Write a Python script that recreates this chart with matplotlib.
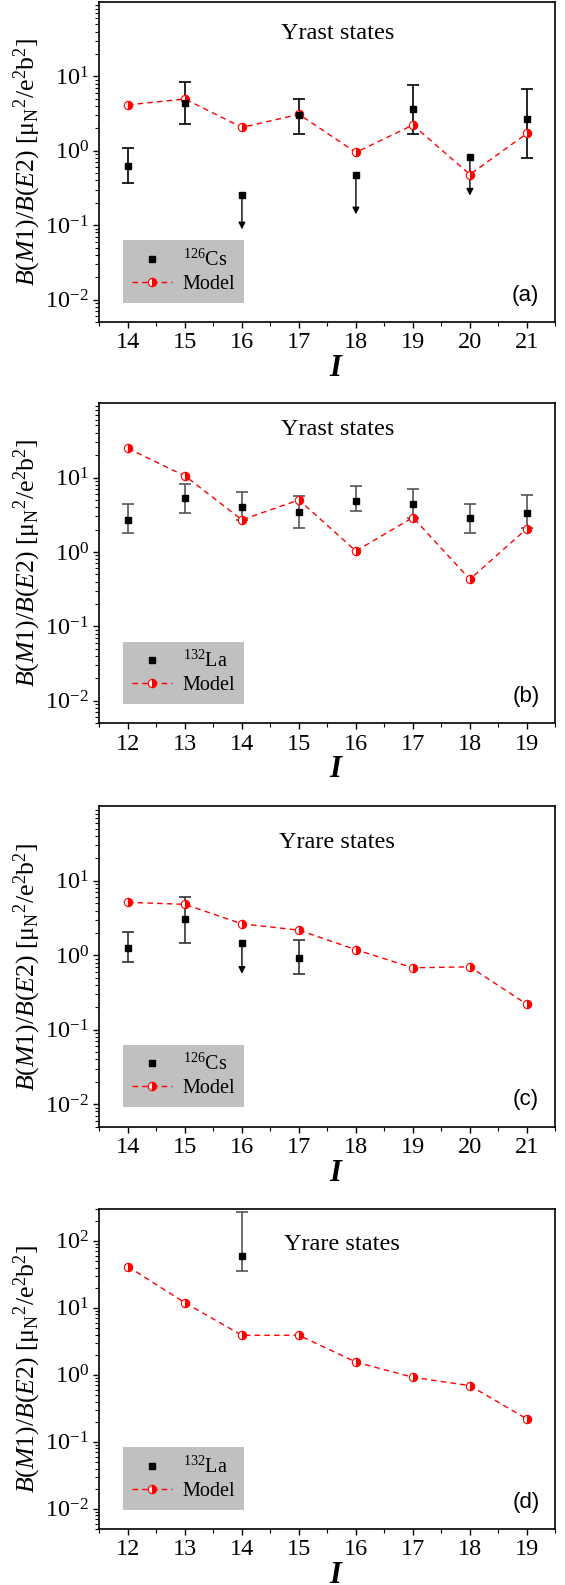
import numpy as np
import matplotlib
matplotlib.use("Agg")
import matplotlib.pyplot as plt

plt.rcParams["font.family"] = ["Liberation Serif", "DejaVu Serif"]
plt.rcParams["mathtext.fontset"] = "custom"
plt.rcParams["mathtext.rm"] = "Liberation Serif"
plt.rcParams["mathtext.it"] = "Liberation Serif:italic"
plt.rcParams["mathtext.bf"] = "Liberation Serif:bold:italic"

# panel (a): yrast, 126Cs
spin_a = [14, 15, 16, 17, 18, 19, 20, 21]
model_a = [4.13, 4.97, 2.06, 3.09, 0.95, 2.22, 0.48, 1.71]
exp_a = [0.63, 4.35, 0.255, 3.0, 0.47, 3.6, 0.82, 2.64]
lo_a = [0.37, 2.3, None, 1.68, None, 1.68, None, 0.79]
hi_a = [1.1, 8.5, None, 5.0, None, 7.6, None, 6.7]
lim_a = [None, None, 0.088, None, 0.14, None, 0.25, None]

# panel (b): yrast, 132La
spin_b = [12, 13, 14, 15, 16, 17, 18, 19]
model_b = [24.6, 10.5, 2.7, 5.0, 1.03, 2.9, 0.43, 2.06]
exp_b = [2.7, 5.3, 4.07, 3.45, 4.9, 4.47, 2.87, 3.35]
lo_b = [1.78, 3.38, 2.7, 2.12, 3.5, 2.9, 1.82, 2.1]
hi_b = [4.47, 8.3, 6.3, 5.7, 7.6, 7.0, 4.47, 5.9]
lim_b = [None] * 8

# panel (c): yrare, 126Cs
spin_c = [14, 15, 16, 17, 18, 19, 20, 21]
model_c = [5.15, 4.84, 2.65, 2.18, 1.19, 0.68, 0.70, 0.22]
exp_spin_c = [14, 15, 16, 17]
exp_c = [1.27, 3.1, 1.48, 0.92]
lo_c = [0.82, 1.48, None, 0.565]
hi_c = [2.07, 6.1, None, 1.61]
lim_c = [None, None, 0.565, None]

# panel (d): yrare, 132La
spin_d = [12, 13, 14, 15, 16, 17, 18, 19]
model_d = [41.4, 11.9, 3.9, 3.9, 1.55, 0.92, 0.69, 0.22]
exp_spin_d = [14]
exp_d = [59]
lo_d = [35]
hi_d = [274]
lim_d = [None]

panels = [
    dict(spin=spin_a, model=model_a, xs=spin_a, exp=exp_a, lo=lo_a, hi=hi_a, lim=lim_a,
         nucl=r"$^{126}$Cs", title="Yrast states", tag="(a)", ymax=100, ecol="black", ty=0.90, tx=0.523),
    dict(spin=spin_b, model=model_b, xs=spin_b, exp=exp_b, lo=lo_b, hi=hi_b, lim=lim_b,
         nucl=r"$^{132}$La", title="Yrast states", tag="(b)", ymax=100, ecol="#555555", ty=0.918, tx=0.523),
    dict(spin=spin_c, model=model_c, xs=exp_spin_c, exp=exp_c, lo=lo_c, hi=hi_c, lim=lim_c,
         nucl=r"$^{126}$Cs", title="Yrare states", tag="(c)", ymax=100, ecol="#333333", ty=0.886, tx=0.52),
    dict(spin=spin_d, model=model_d, xs=exp_spin_d, exp=exp_d, lo=lo_d, hi=hi_d, lim=lim_d,
         nucl=r"$^{132}$La", title="Yrare states", tag="(d)", ymax=300, ecol="#555555", ty=0.89, tx=0.531),
]

fig = plt.figure(figsize=(5.65, 15.85), dpi=100)
bottoms = [0.7968, 0.5437, 0.2892, 0.0353]

for p, b in zip(panels, bottoms):
    ax = fig.add_axes([0.176, b, 0.807, 0.202])
    ax.set_yscale("log")

    # experimental points with error bars / upper limits
    for x, v, l, h, lim in zip(p["xs"], p["exp"], p["lo"], p["hi"], p["lim"]):
        if l is not None:
            ax.errorbar([x], [v], yerr=[[v - l], [h - v]], fmt="none", ecolor=p["ecol"],
                        elinewidth=1.2, capsize=4, capthick=1.2, zorder=2)
        if lim is not None:
            ax.annotate("", xy=(x, lim), xytext=(x, v),
                        arrowprops=dict(arrowstyle="-|>", color="black", lw=1.0,
                                        mutation_scale=10, shrinkA=0, shrinkB=0), zorder=2)
    ax.plot(p["xs"], p["exp"], "s", color="black", ms=5, zorder=4, label=p["nucl"])

    ax.plot(p["spin"], p["model"], "--", color="red", lw=1.0, dashes=(4, 3),
            marker="o", ms=6, mfc="red", mfcalt="white", mec="red", mew=0.8,
            fillstyle="right", zorder=3, label="Model")

    ax.set_xlim(p["spin"][0] - 0.5, p["spin"][-1] + 0.5)
    ax.set_ylim(0.005, p["ymax"])
    ax.set_xticks(p["spin"])
    ax.set_xticks(np.arange(p["spin"][0] - 0.5, p["spin"][-1] + 0.6, 1.0), minor=True)
    ax.set_yticks([1e-2, 1e-1, 1, 10] + ([100] if p["ymax"] > 100 else []))
    ax.tick_params(which="major", direction="out", length=4.5, width=1.0, labelsize=17.5,
                   pad=3, top=False, right=False)
    ax.tick_params(which="minor", direction="out", length=2.8, width=0.8, top=False, right=False)
    for s in ax.spines.values():
        s.set_linewidth(1.2)

    ax.set_ylabel(r"$B$($M$1)/$B$($E$2) [μ$_{\mathrm{N}}$$^{2}$/e$^{2}$b$^{2}$]", fontsize=18.5, labelpad=2)
    ax.set_xlabel(r"$\mathbf{I}$", fontsize=22, labelpad=0)
    ax.xaxis.set_label_coords(0.52, -0.1)

    ax.text(p["tx"], p["ty"], p["title"], transform=ax.transAxes, fontsize=17.5,
            ha="center", va="center")
    ax.text(0.935, 0.084, p["tag"], transform=ax.transAxes, fontsize=16,
            family="Liberation Sans", ha="center", va="center")

    leg = ax.legend(loc="lower left", bbox_to_anchor=(0.052, 0.06), fontsize=14.5,
                    frameon=True, fancybox=False, handlelength=2.0, handletextpad=0.5,
                    borderpad=0.45, labelspacing=0.2, borderaxespad=0)
    leg.get_frame().set_facecolor("#c0c0c0")
    leg.get_frame().set_edgecolor("none")
    leg.get_frame().set_alpha(1)

fig.savefig("out.png", dpi=100)
